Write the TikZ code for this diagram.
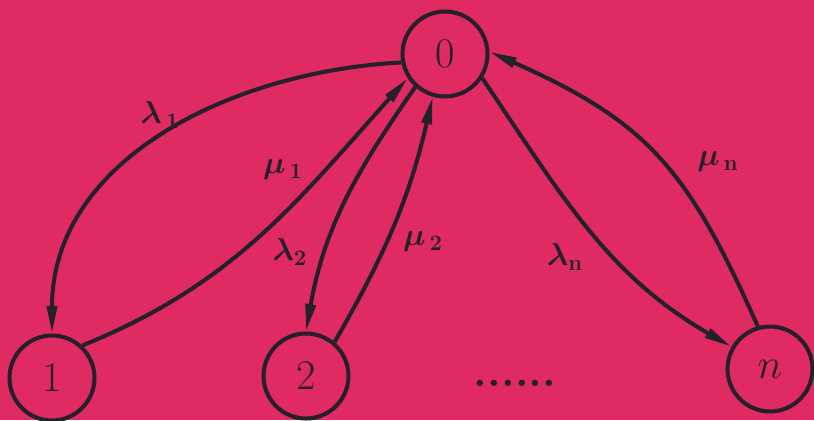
\documentclass[tikz,border=0pt]{standalone}
\usepackage{fix-cm}
\usepackage{xcolor}
\usepackage{tikz}
\usetikzlibrary{arrows.meta}

\definecolor{paper}{RGB}{224,42,98}
\definecolor{ink}{RGB}{38,32,42}

\begin{document}
\begin{tikzpicture}[
  x=0.02cm, y=0.02cm,
  state/.style={draw=ink, circle, line width=2.3pt, minimum size=1.7cm,
                inner sep=0pt, text=ink, font=\fontsize{24}{28}\selectfont},
  rate/.style={text=ink, font=\fontsize{18}{22}\selectfont\boldmath},
  arr/.style={-{Triangle[length=5.5mm,width=2mm]}, line width=2.3pt, draw=ink},
]
\fill[paper] (0,0) rectangle (814,420);
\useasboundingbox (0,0) rectangle (814,420);
\node[state] (s0) at (445,366) {0};
\node[state] (s1) at (52,42)   {1};
\node[state] (s2) at (306,44)  {2};
\node[state] (sn) at (770,51)  {$n$};
\node[text=ink, font=\fontsize{25}{30}\selectfont\bfseries, anchor=base] (dots) at (515,34) {......};
\draw[arr] (s0.191) to[out=183, in=90] (s1.north);
\draw[arr] (s1.47) to[out=22, in=228] (s0.213);
\draw[arr] (s0.228) to[out=235, in=80] (s2.north);
\draw[arr] (s2.50) to[out=60, in=257] (s0.254);
\draw[arr] (s0.-33) to[out=-56, in=150] (sn.150);
\draw[arr] (sn.106) to[out=114, in=-24, looseness=1.15] (s0.3);
\node[rate] (l1) at (160,305) {$\lambda_{\,1}$};
\node[rate] (m1) at (283,250) {$\mu_{\,1}$};
\node[rate] (l2) at (290,168) {$\lambda_2$};
\node[rate] (m2) at (423,178) {$\mu_{\,2}$};
\node[rate] (ln) at (565,163) {$\lambda_{\mathrm{n}}$};
\node[rate] (mn) at (718,258) {$\mu_{\,\mathrm{n}}$};
\end{tikzpicture}
\end{document}
